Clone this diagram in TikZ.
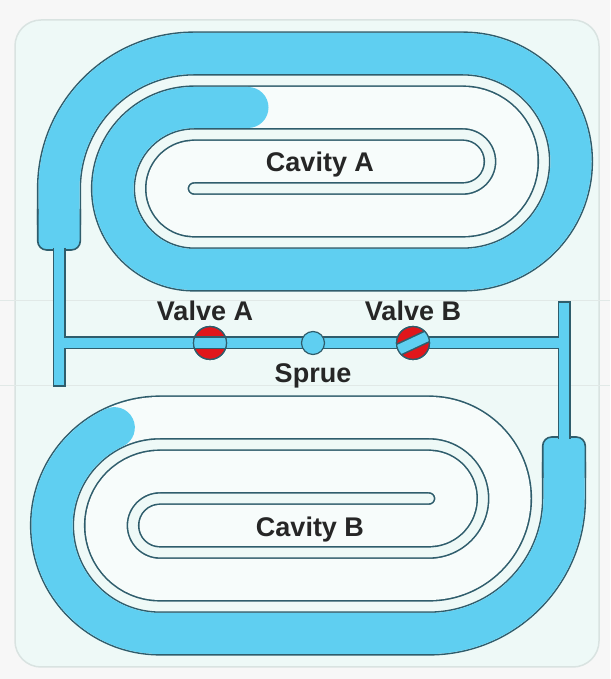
\documentclass[tikz,border=0pt]{standalone}
\usepackage{fontspec}
\setmainfont{Liberation Sans}
\usetikzlibrary{positioning}
\definecolor{meltBlue}{HTML}{5FCFF1}
\definecolor{edgeTeal}{HTML}{2F5D6C}
\definecolor{moldMint}{HTML}{EEF9F7}
\definecolor{cavityPale}{HTML}{F7FCFB}
\definecolor{valveRed}{HTML}{E0161B}
\definecolor{frameGray}{HTML}{D9E3E1}
\tikzset{
  x=1pt, y=1pt,
  chanedge/.style={draw=edgeTeal, line width=44.2pt, line cap=round, line join=round},
  chanbody/.style={draw=cavityPale, line width=41pt, line cap=round, line join=round},
  chanmelt/.style={draw=meltBlue, line width=41pt, line cap=round, line join=round},
  runedge/.style={draw=edgeTeal, line width=13pt},
  runmelt/.style={draw=meltBlue, line width=9.8pt},
  valve/.style={circle, draw=edgeTeal, fill=valveRed, line width=1.2pt,
                minimum size=33pt, inner sep=0pt},
  sprue/.style={circle, draw=edgeTeal, fill=meltBlue, line width=1.2pt,
                minimum size=23pt, inner sep=0pt},
  lbl/.style={font=\fontsize{27}{30}\selectfont\bfseries, text=black!85,
              anchor=base, inner sep=0pt},
}
% spiral centre line, gate leg first, dead end in the middle
\newcommand{\cavitypath}{(59,455) -- (59,490.5)
  arc[start angle=180, end angle=90, radius=135] -- (463,625.5)
  arc[start angle=90, end angle=-90, radius=108] -- (194,409.5)
  arc[start angle=270, end angle=90, radius=81] -- (463,571.5)
  arc[start angle=90, end angle=-90, radius=54] -- (194,463.5)
  arc[start angle=270, end angle=90, radius=27] -- (463,517.5)}
% how far the melt got in each cavity
\newcommand{\meltpathA}{(59,455) -- (59,490.5)
  arc[start angle=180, end angle=90, radius=135] -- (463,625.5)
  arc[start angle=90, end angle=-90, radius=108] -- (194,409.5)
  arc[start angle=270, end angle=90, radius=81] -- (248,571.5)}
\newcommand{\meltpathB}{(59,455) -- (59,490.5)
  arc[start angle=180, end angle=90, radius=135] -- (463,625.5)
  arc[start angle=90, end angle=-65, radius=108]}
\newcommand{\cavity}[1]{%
  \draw[chanedge] \cavitypath;
  \draw[chanbody] \cavitypath;
  \draw[chanmelt] #1;
  \fill[meltBlue, rounded corners=9pt] (37.7,429) rectangle (80.3,470);
  \draw[edgeTeal, line width=1.6pt, rounded corners=9pt]
    (37.7,470) -- (37.7,429) -- (80.3,429) -- (80.3,470);
}

\begin{document}
\begin{tikzpicture}
  \useasboundingbox (0,0) rectangle (610,679);
  \fill[white!97!black] (0,0) rectangle (610,679);
  \draw[frameGray, line width=1.5pt, fill=moldMint, rounded corners=26pt] (15,659) rectangle (599,12);
  \draw[frameGray!80, line width=0.8pt] (0,379) -- (610,379) (0,294) -- (610,294);

  % cavity A, and cavity B turned half way round the sprue
  \cavity{\meltpathA}
  \begin{scope}[rotate around={180:(311.5,335.5)}]
    \cavity{\meltpathB}
  \end{scope}

  % runners
  \draw[runedge] (59,431) -- (59,292.4) (59,336) -- (564,336) (564,377.6) -- (564,240);
  \draw[runmelt] (59,431) -- (59,294) (59,336) -- (564,336) (564,376) -- (564,240);

  % valves
  \node[valve] (valveA) at (210,336) {};
  \begin{scope}
    \clip (valveA.center) circle (16.5);
    \draw[runedge] (190,336) -- (230,336);
    \draw[runmelt] (190,336) -- (230,336);
  \end{scope}
  \draw[edgeTeal, line width=1.2pt] (valveA.center) circle (16.5);

  \node[valve] (valveB) at (413,336) {};
  \begin{scope}
    \clip (valveB.center) circle (16.5);
    \begin{scope}[rotate around={25:(413,336)}]
      \draw[runedge] (393,336) -- (433,336);
      \draw[runmelt] (393,336) -- (433,336);
    \end{scope}
  \end{scope}
  \draw[edgeTeal, line width=1.2pt] (valveB.center) circle (16.5);

  \node[sprue] (sprue) at (313,336) {};

  \node[lbl, above=4.5pt of valveA, xshift=-5pt] (valveAlbl) {Valve A};
  \node[lbl, above=4.5pt of valveB] (valveBlbl) {Valve B};
  \node[lbl, below=8pt of sprue] (spruelbl) {Sprue};
  \node[lbl] (cavA) at (320,507) {Cavity A};
  \node[lbl] (cavB) at (310,142) {Cavity B};
\end{tikzpicture}
\end{document}
